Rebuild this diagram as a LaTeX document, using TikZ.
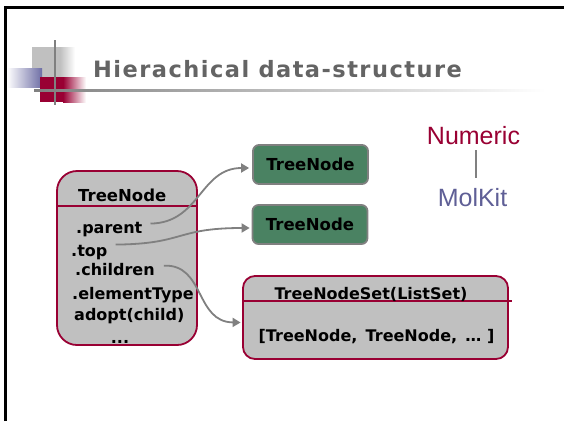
\documentclass[tikz,border=0pt]{standalone}
\usepackage{fontspec}
\setmainfont{DejaVu Sans}
\newfontfamily\libsans{Liberation Sans}
\newfontfamily\titlefont[LetterSpace=6.5]{DejaVu Sans Bold}
\usetikzlibrary{arrows.meta}
\definecolor{crim}{RGB}{153,0,51}
\definecolor{boxgray}{RGB}{192,192,192}
\definecolor{tgreen}{RGB}{74,130,98}
\definecolor{molc}{RGB}{95,95,150}
\definecolor{ttl}{RGB}{100,100,100}
\definecolor{stripe}{RGB}{110,110,165}
\definecolor{arr}{RGB}{128,128,128}
\tikzset{
  lbl/.style={font=\bfseries\fontsize{16}{19}\selectfont, inner sep=0pt, anchor=base west, text=black},
  crimbox/.style={draw=crim, fill=boxgray, line width=1.8pt},
  gnode/.style={draw=arr, fill=tgreen, line width=1.8pt, rounded corners=6pt,
    minimum width=115pt, minimum height=39pt, inner sep=0pt,
    font=\bfseries\fontsize{16.5}{19}\selectfont},
  conn/.style={draw=arr, line width=1.8pt, -{Triangle[length=8pt,width=9pt]}},
  bigword/.style={font=\libsans\fontsize{25}{30}\selectfont, inner sep=0pt, anchor=base}
}
\begin{document}
\begin{tikzpicture}[x=1pt,y=-1pt]
\useasboundingbox (0,0) rectangle (564,421);
\fill[white] (0,0) rectangle (564,421);
% frame
\draw[line width=3pt] (5.5,421) -- (5.5,7) -- (564,7);
% logo
\fill[boxgray] (32,47) rectangle (60,77);
\shade[left color=boxgray,right color=white] (60,47) rectangle (75,77);
\shade[left color=white,right color=stripe] (7,68) rectangle (42,87);
\fill[crim] (40,77) rectangle (63,102);
\shade[left color=crim,right color=white] (63,77) rectangle (86,102);
\draw[arr, line width=1.5pt] (55,40) -- (55,105);
\shade[left color=arr,right color=white] (34,89.8) rectangle (545,91.8);
% title
\node[anchor=base west, inner sep=0pt, text=ttl, font=\titlefont\fontsize{22.5}{26}\selectfont] (title) at (93,77.5) {Hierachical data-structure};
% main TreeNode box
\node[crimbox, rounded corners=20pt, minimum width=140pt, minimum height=174pt] (tn) at (127,258) {};
\coordinate (tnd) at (197,206);
\draw[crim, line width=1.8pt] (tn.west |- tnd) -- (tnd);
\node[lbl, font=\bfseries\fontsize{16.5}{19}\selectfont] (tnh) at (78,201.7) {TreeNode};
\node[lbl] (par) at (76,233) {.parent};
\node[lbl] (top) at (71,256) {.top};
\node[lbl] (chl) at (75,275.5) {.children};
\node[lbl] (elt) at (72,299) {.elementType};
\node[lbl] (adp) at (74,320.5) {adopt(child)};
\node[lbl, anchor=base] (dots) at (120,343) {...};
% green nodes
\node[gnode] (g1) at (310.5,164.5) {TreeNode};
\node[gnode] (g2) at (310,224.5) {TreeNode};
% TreeNodeSet box
\node[crimbox, rounded corners=12pt, minimum width=265pt, minimum height=83pt] (set) at (375.5,317.5) {};
\coordinate (setd) at (512,301);
\draw[crim, line width=1.8pt] (set.west |- setd) -- (setd);
\node[lbl, anchor=base] (seth) at (371,299) {TreeNodeSet(ListSet)};
\node[lbl, anchor=base] (setc) at (376.5,341.5) {[TreeNode,\, TreeNode,\, … ]};
% connectors
\draw[conn] ([shift={(8pt,-2pt)}]par.north east) .. controls (200,223) and (200,168) .. ([shift={(-3pt,-3.5pt)}]g1.west);
\draw[conn] ([shift={(8pt,0pt)}]top.north east) .. controls (185,244) and (175,228) .. ([shift={(-2pt,-3.5pt)}]g2.west);
\draw[conn] ([shift={(9pt,-2.5pt)}]chl.north east) .. controls (205,264) and (195,322) .. ([shift={(-1.5pt,-5pt)}]set.west);
% Numeric / MolKit
\node[bigword, text=crim] (num) at (473.5,144) {Numeric};
\node[bigword, text=molc] (mol) at (472.5,206.5) {MolKit};
\coordinate (lt) at (476,150);
\coordinate (lb) at (476,178);
\draw[arr, line width=1.5pt] (lt) -- (lb);
\end{tikzpicture}
\end{document}
